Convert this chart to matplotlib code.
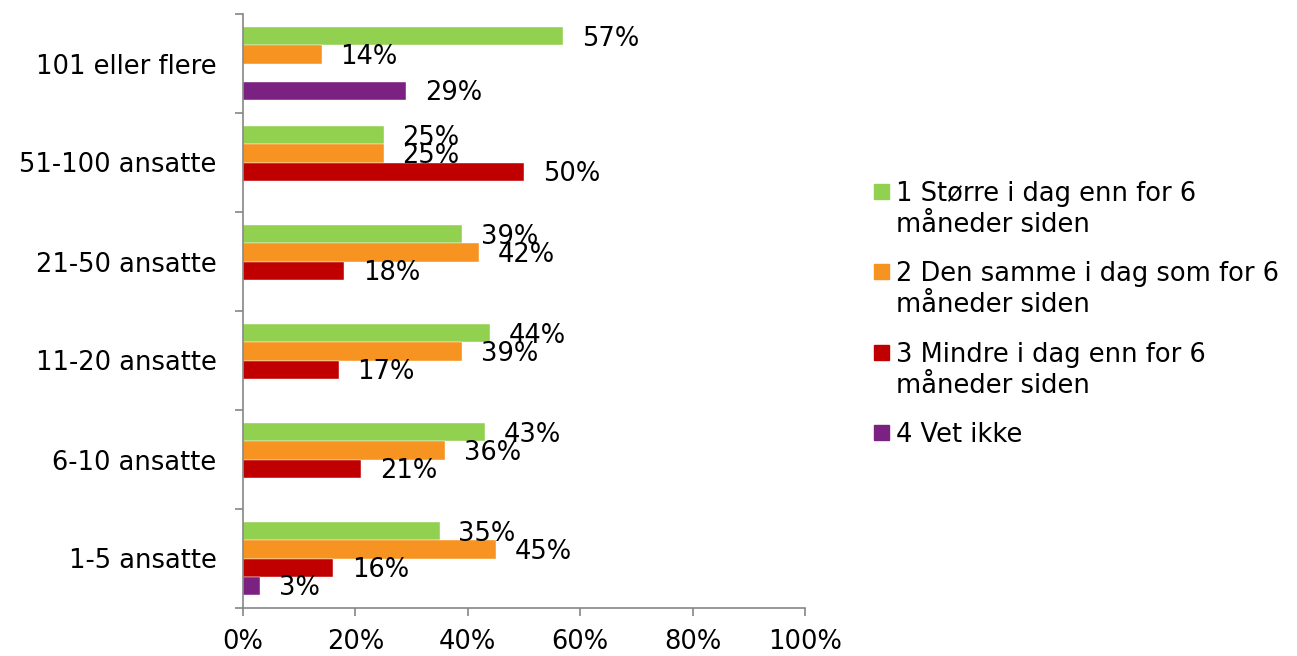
import matplotlib
matplotlib.use("Agg")
import matplotlib.pyplot as plt
from matplotlib.ticker import FixedLocator, PercentFormatter
from matplotlib.patches import Rectangle
import numpy as np

categories = ["1-5 ansatte", "6-10 ansatte", "11-20 ansatte", "21-50 ansatte",
              "51-100 ansatte", "101 eller flere"]
series_names = ["1 Større i dag enn for 6\nmåneder siden",
                "2 Den samme i dag som for 6\nmåneder siden",
                "3 Mindre i dag enn for 6\nmåneder siden",
                "4 Vet ikke"]
s1_storre = [35, 43, 44, 39, 25, 57]
s2_samme = [45, 36, 39, 42, 25, 14]
s3_mindre = [16, 21, 17, 18, 50, 0]
s4_vetikke = [3, 0, 0, 0, 0, 29]
colors = ["#92D050", "#F79320", "#C00000", "#7B2181"]
x_ticks = [0, 20, 40, 60, 80, 100]

FS = 18.5
plt.rcParams['font.family'] = ['DejaVu Sans']
W, H = 1297, 656
fig = plt.figure(figsize=(W/100, H/100), dpi=100)
ax = fig.add_axes([243/W, 1-608/H, (805-243)/W, (608-14)/H])

h = 0.182
offsets = [1.5*h, 0.5*h, -0.5*h, -1.5*h]
y = np.arange(len(categories))
all_series = [s1_storre, s2_samme, s3_mindre, s4_vetikke]
for vals, off, col, name in zip(all_series, offsets, colors, series_names):
    ax.barh(y + off, vals, height=h, color=col, label=name,
            edgecolor='white', linewidth=0.3)
    for yi, v in zip(y, vals):
        if v > 0:
            ax.annotate(f"{v}%", xy=(v, yi + off), xytext=(13.5, -1.8),
                        textcoords='offset points', va='center', ha='left',
                        fontsize=FS, color='black')

ax.set_xlim(0, 100)
ax.set_ylim(-0.5, len(categories) - 0.5)
ax.xaxis.set_major_locator(FixedLocator(x_ticks))
ax.xaxis.set_major_formatter(PercentFormatter(decimals=0))
ax.set_yticks(y)
ax.set_yticklabels(categories)
ax.yaxis.set_minor_locator(FixedLocator(np.arange(-0.5, len(categories), 1.0)))
ax.tick_params(axis='y', which='major', length=0, pad=19, labelsize=FS)
ax.tick_params(axis='y', which='minor', length=6, color='#868686', width=1.2)
ax.tick_params(axis='x', which='major', length=6, color='#868686', width=1.2,
               labelsize=FS, pad=9)
for s in ['top', 'right']:
    ax.spines[s].set_visible(False)
for s in ['left', 'bottom']:
    ax.spines[s].set_color('#868686')
    ax.spines[s].set_linewidth(1.2)

# legend (drawn manually so that each marker sits beside the first text line)
leg_x_sq, leg_x_txt = 874, 896
first_line_centers = [191, 271, 352, 432]
line_gap = 31
for name, col, yc in zip(series_names, colors, first_line_centers):
    fig.patches.append(Rectangle((leg_x_sq/W, 1-(yc+7.5)/H), 15/W, 15/H,
                                 transform=fig.transFigure, color=col))
    for k, line in enumerate(name.split("\n")):
        fig.text(leg_x_txt/W, 1-(yc + k*line_gap)/H, line, fontsize=FS,
                 va='center_baseline', ha='left')

fig.savefig("out.png", dpi=100)
